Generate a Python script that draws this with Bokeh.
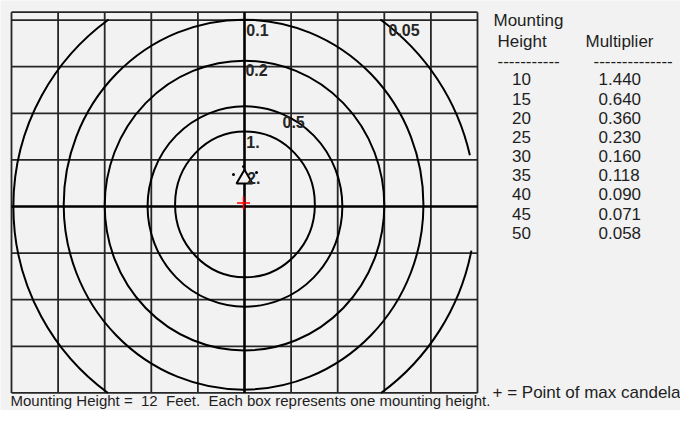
import numpy as np
from bokeh.plotting import figure
from bokeh.models import Range1d
from bokeh.core.properties import value
from bokeh.embed import file_html
from bokeh.resources import INLINE

# ---------------- data (units = mounting heights) ----------------
GRID_X = [-5, -4, -3, -2, -1, 0, 1, 2, 3, 4, 5]
GRID_Y = [-4, -3, -2, -1, 0, 1, 2, 3, 4]
FRAME_TOP = 4.17

# closed iso-footcandle contours (ellipse extents)
CONTOUR_LEVEL = ["1.", "0.5", "0.2", "0.1"]
CONTOUR_CX = [0.01, 0.01, 0.0, -0.02]
CONTOUR_CY = [0.045, 0.0, 0.02, 0.04]
CONTOUR_W = [3.0, 4.18, 6.0, 7.72]
CONTOUR_H = [3.13, 4.30, 6.22, 7.94]

# 0.05 contour: partial arcs
ARC_RADIUS = 4.96
ARC_START_DEG = [12.8, -53.8, 126.0]
ARC_END_DEG = [54.0, -11.0, 233.8]

# fragments of the 2. contour
DOTS_X = [-0.236, 0.258, -0.02]
DOTS_Y = [0.687, 0.73, 0.86]

LUMINAIRE_X = [0.0]
LUMINAIRE_Y = [0.59]
MAXCD_X = [-0.02]
MAXCD_Y = [0.075]

LABEL_TEXT = ["0.1", "0.2", "0.5", "1.", "2.", "0.05"]
LABEL_X = [0.04, 0.02, 0.815, 0.04, 0.055, 3.09]
LABEL_Y = [3.67, 2.81, 1.695, 1.266, 0.49, 3.67]

MOUNT_HEIGHTS = ["10", "15", "20", "25", "30", "35", "40", "45", "50"]
MULTIPLIERS = ["1.440", "0.640", "0.360", "0.230", "0.160", "0.118", "0.090", "0.071", "0.058"]

# ---------------- layout ----------------
W, H = 680, 410
PX = 46.6           # pixels per mounting height
CX, CY = 244, 206   # grid centre in canvas pixels
BG = "#f2f2f2"
BASE_K = 0.355      # empirical baseline correction (fraction of font size)


def pg(xp, yp):
    """canvas pixel -> data"""
    return (xp - CX) / PX, (CY - yp) / PX


p = figure(width=W, height=H, output_backend="svg", toolbar_location=None,
           x_axis_location=None, y_axis_location=None,
           x_range=Range1d(-CX / PX, (W - CX) / PX),
           y_range=Range1d(-(H - CY) / PX, CY / PX),
           min_border=0, outline_line_color=None,
           background_fill_color=BG, border_fill_color=BG)
p.grid.visible = False

GRID_COL = "#262626"
YB = GRID_Y[0]
# vertical lines
vx = [x for x in GRID_X if x != 0]
p.segment(x0=vx, x1=vx, y0=[YB] * len(vx), y1=[FRAME_TOP] * len(vx),
          line_color=GRID_COL, line_width=1.8)
# horizontal lines + top frame
hy = [y for y in GRID_Y if y != 0] + [FRAME_TOP]
p.segment(x0=[GRID_X[0]] * len(hy), x1=[GRID_X[-1]] * len(hy), y0=hy, y1=hy,
          line_color=GRID_COL, line_width=1.8)
# centre lines
p.segment(x0=[0, GRID_X[0]], x1=[0, GRID_X[-1]], y0=[YB, 0], y1=[FRAME_TOP, 0],
          line_color="black", line_width=2.6)

# contours
p.ellipse(x=CONTOUR_CX, y=CONTOUR_CY, width=CONTOUR_W, height=CONTOUR_H,
          fill_color=None, line_color="black", line_width=2)
p.arc(x=[0] * 3, y=[0] * 3, radius=ARC_RADIUS,
      start_angle=list(np.radians(ARC_START_DEG)), end_angle=list(np.radians(ARC_END_DEG)),
      line_color="black", line_width=2)
p.scatter(x=DOTS_X, y=DOTS_Y, marker="circle", size=3, line_color=None, fill_color="black")

# luminaire + max candela
p.scatter(x=LUMINAIRE_X, y=LUMINAIRE_Y, marker="triangle", size=16,
          line_color="black", line_width=2, fill_color=BG)
p.scatter(x=MAXCD_X, y=MAXCD_Y, marker="cross", size=13, line_color="red", line_width=1.6)

# contour labels
LBL_SIZE = 16
p.text(x=LABEL_X, y=[v + BASE_K * LBL_SIZE / PX for v in LABEL_Y], text=LABEL_TEXT,
       text_font=value("Liberation Sans"),
       text_font_style="bold", text_font_size=f"{LBL_SIZE}px", text_color="#262626",
       text_align="left", text_baseline="alphabetic")

# table
FONT = value("Liberation Sans")
TXT = "#1e1e1e"


def put(texts, pts, size=17):
    xs = [pg(*pt)[0] for pt in pts]
    ys = [pg(pt[0], pt[1] - BASE_K * size)[1] for pt in pts]
    p.text(x=xs, y=ys, text=texts, text_font=FONT, text_font_size=f"{size}px",
           text_color=TXT, text_align="left", text_baseline="alphabetic")


put(["Mounting", "Height", "Multiplier", "-" * 11, "-" * 14],
    [(493, 26), (497, 46.7), (585, 46.7), (497, 66.5), (593, 66.5)])

rows = [85 + i * 19.17 for i in range(len(MOUNT_HEIGHTS))]
put(MOUNT_HEIGHTS, [(511.5, r) for r in rows])
put(MULTIPLIERS, [(598, r) for r in rows])

put(["+ = Point of max candela"], [(492, 398)])
put(["Mounting Height = \u00a012 \u00a0Feet. \u00a0Each box represents one mounting height."],
    [(10, 405)], size=15)

open("out.html", "w").write(file_html(p, INLINE))
